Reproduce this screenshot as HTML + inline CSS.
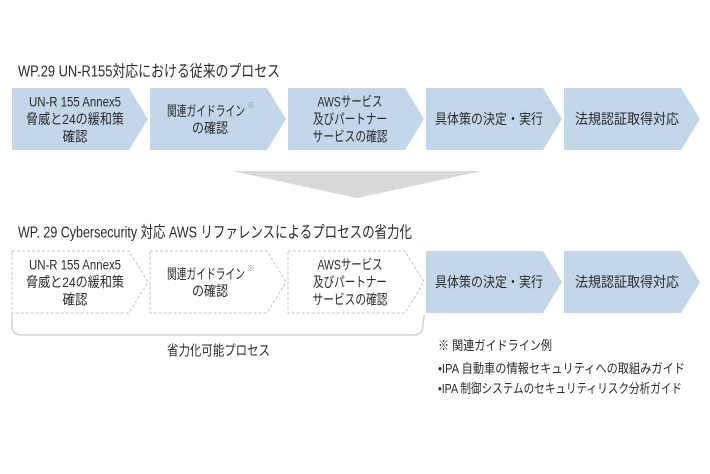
<!DOCTYPE html>
<html><head><meta charset="utf-8"><style>
html,body{margin:0;padding:0;background:#fff;}
svg{display:block;}
text{font-family:"Liberation Sans","Noto Sans CJK JP",sans-serif;fill:#2a2a2a;}
</style></head><body>
<svg width="710" height="474" viewBox="0 0 710 474" xmlns="http://www.w3.org/2000/svg">
<rect width="710" height="474" fill="#fff"/>
<text x="18" y="76.5" font-size="16" textLength="262" lengthAdjust="spacingAndGlyphs">WP.29 UN-R155対応における従来のプロセス</text>
<g fill="#c3d6ea">
<polygon points="12,88 129,88 148,119 129,150 12,150"/>
<polygon points="150,88 267,88 286,119 267,150 150,150"/>
<polygon points="288,88 405,88 424,119 405,150 288,150"/>
<polygon points="426,88 543,88 562,119 543,150 426,150"/>
<polygon points="564,88 681,88 700,119 681,150 564,150"/>
</g>
<g font-size="14" text-anchor="middle">
<text x="75" y="106.5" textLength="92" lengthAdjust="spacingAndGlyphs">UN-R 155 Annex5</text>
<text x="75" y="124" textLength="98" lengthAdjust="spacingAndGlyphs">脅威と24の緩和策</text>
<text x="75" y="141.5" textLength="25" lengthAdjust="spacingAndGlyphs">確認</text>
<text x="206" y="116" textLength="78" lengthAdjust="spacingAndGlyphs">関連ガイドライン</text>
<text x="210" y="133" textLength="36" lengthAdjust="spacingAndGlyphs">の確認</text>
<text x="350" y="106.5" textLength="65" lengthAdjust="spacingAndGlyphs">AWSサービス</text>
<text x="350" y="124" textLength="74" lengthAdjust="spacingAndGlyphs">及びパートナー</text>
<text x="350" y="141.5" textLength="75" lengthAdjust="spacingAndGlyphs">サービスの確認</text>
<text x="489" y="124" textLength="108" lengthAdjust="spacingAndGlyphs">具体策の決定・実行</text>
<text x="627" y="124" textLength="104" lengthAdjust="spacingAndGlyphs">法規認証取得対応</text>
</g>
<text x="247" y="108" font-size="8" style="fill:#999">※</text>

<polygon points="232,171 482,171 357,198" fill="#d9d9d9"/>

<text x="18" y="237.5" font-size="16" textLength="394" lengthAdjust="spacingAndGlyphs">WP. 29 Cybersecurity 対応 AWS リファレンスによるプロセスの省力化</text>

<g fill="none" stroke="#c4c4c4" stroke-width="1" stroke-dasharray="3,2">
<polygon points="12,251 129,251 148,282 129,313 12,313"/>
<polygon points="150,251 267,251 286,282 267,313 150,313"/>
<polygon points="288,251 405,251 424,282 405,313 288,313"/>
</g>
<g fill="#c3d6ea">
<polygon points="426,251 543,251 562,282 543,313 426,313"/>
<polygon points="564,251 681,251 700,282 681,313 564,313"/>
</g>
<g font-size="14" text-anchor="middle">
<text x="75" y="269.5" textLength="92" lengthAdjust="spacingAndGlyphs">UN-R 155 Annex5</text>
<text x="75" y="287" textLength="98" lengthAdjust="spacingAndGlyphs">脅威と24の緩和策</text>
<text x="75" y="304.5" textLength="25" lengthAdjust="spacingAndGlyphs">確認</text>
<text x="206" y="279" textLength="78" lengthAdjust="spacingAndGlyphs">関連ガイドライン</text>
<text x="210" y="296" textLength="36" lengthAdjust="spacingAndGlyphs">の確認</text>
<text x="350" y="269.5" textLength="65" lengthAdjust="spacingAndGlyphs">AWSサービス</text>
<text x="350" y="287" textLength="74" lengthAdjust="spacingAndGlyphs">及びパートナー</text>
<text x="350" y="304.5" textLength="75" lengthAdjust="spacingAndGlyphs">サービスの確認</text>
<text x="489" y="287" textLength="108" lengthAdjust="spacingAndGlyphs">具体策の決定・実行</text>
<text x="627" y="287" textLength="104" lengthAdjust="spacingAndGlyphs">法規認証取得対応</text>
</g>
<text x="247" y="271" font-size="8" style="fill:#999">※</text>

<path d="M12,314 L12,326 Q12,335 22,335 L414,335 Q422,335 423,326 L424,315" fill="none" stroke="#d3d3d3" stroke-width="1.5"/>
<text x="218.5" y="355.5" font-size="14" text-anchor="middle" textLength="103" lengthAdjust="spacingAndGlyphs">省力化可能プロセス</text>

<g font-size="13">
<text x="438" y="350" textLength="114" lengthAdjust="spacingAndGlyphs">※ 関連ガイドライン例</text>
<text x="438" y="373" textLength="247" lengthAdjust="spacingAndGlyphs">•IPA 自動車の情報セキュリティへの取組みガイド</text>
<text x="438" y="393" textLength="244" lengthAdjust="spacingAndGlyphs">•IPA 制御システムのセキュリティリスク分析ガイド</text>
</g>
</svg>
</body></html>
